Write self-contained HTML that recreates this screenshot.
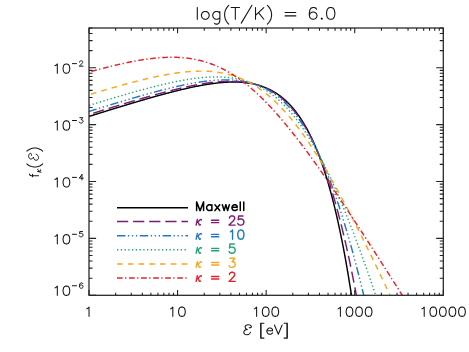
<!DOCTYPE html>
<html><head><meta charset="utf-8"><title>plot</title>
<style>html,body{margin:0;padding:0;background:#fff;}svg{display:block}</style></head>
<body><svg width="469" height="352" viewBox="0 0 469 352">
<rect width="469" height="352" fill="#fff"/>
<defs><clipPath id="c"><rect x="89.0" y="28.0" width="354.3" height="267.3"/></clipPath></defs>
<g clip-path="url(#c)" fill="none" stroke-width="1.45" stroke-linejoin="round">
<path d="M89.00,116.43 L89.59,116.25 L90.18,116.06 L90.77,115.88 L91.37,115.69 L91.96,115.51 L92.55,115.32 L93.14,115.14 L93.73,114.95 L94.32,114.77 L94.91,114.58 L95.51,114.40 L96.10,114.21 L96.69,114.03 L97.28,113.84 L97.87,113.66 L98.46,113.48 L99.06,113.29 L99.65,113.11 L100.24,112.92 L100.83,112.74 L101.42,112.55 L102.01,112.37 L102.60,112.19 L103.20,112.00 L103.79,111.82 L104.38,111.64 L104.97,111.45 L105.56,111.27 L106.15,111.09 L106.74,110.90 L107.34,110.72 L107.93,110.54 L108.52,110.36 L109.11,110.17 L109.70,109.99 L110.29,109.81 L110.88,109.63 L111.48,109.44 L112.07,109.26 L112.66,109.08 L113.25,108.90 L113.84,108.72 L114.43,108.54 L115.03,108.35 L115.62,108.17 L116.21,107.99 L116.80,107.81 L117.39,107.63 L117.98,107.45 L118.57,107.27 L119.17,107.09 L119.76,106.91 L120.35,106.73 L120.94,106.55 L121.53,106.37 L122.12,106.19 L122.71,106.01 L123.31,105.83 L123.90,105.65 L124.49,105.47 L125.08,105.29 L125.67,105.12 L126.26,104.94 L126.86,104.76 L127.45,104.58 L128.04,104.40 L128.63,104.22 L129.22,104.05 L129.81,103.87 L130.40,103.69 L131.00,103.52 L131.59,103.34 L132.18,103.16 L132.77,102.99 L133.36,102.81 L133.95,102.63 L134.54,102.46 L135.14,102.28 L135.73,102.11 L136.32,101.93 L136.91,101.76 L137.50,101.58 L138.09,101.41 L138.68,101.24 L139.28,101.06 L139.87,100.89 L140.46,100.72 L141.05,100.54 L141.64,100.37 L142.23,100.20 L142.83,100.03 L143.42,99.85 L144.01,99.68 L144.60,99.51 L145.19,99.34 L145.78,99.17 L146.37,99.00 L146.97,98.83 L147.56,98.66 L148.15,98.49 L148.74,98.32 L149.33,98.15 L149.92,97.98 L150.51,97.81 L151.11,97.65 L151.70,97.48 L152.29,97.31 L152.88,97.14 L153.47,96.98 L154.06,96.81 L154.65,96.64 L155.25,96.48 L155.84,96.31 L156.43,96.15 L157.02,95.99 L157.61,95.82 L158.20,95.66 L158.80,95.49 L159.39,95.33 L159.98,95.17 L160.57,95.01 L161.16,94.85 L161.75,94.69 L162.34,94.53 L162.94,94.37 L163.53,94.21 L164.12,94.05 L164.71,93.89 L165.30,93.73 L165.89,93.57 L166.48,93.41 L167.08,93.26 L167.67,93.10 L168.26,92.95 L168.85,92.79 L169.44,92.64 L170.03,92.48 L170.63,92.33 L171.22,92.18 L171.81,92.02 L172.40,91.87 L172.99,91.72 L173.58,91.57 L174.17,91.42 L174.77,91.27 L175.36,91.12 L175.95,90.98 L176.54,90.83 L177.13,90.68 L177.72,90.54 L178.31,90.39 L178.91,90.25 L179.50,90.10 L180.09,89.96 L180.68,89.82 L181.27,89.67 L181.86,89.53 L182.45,89.39 L183.05,89.25 L183.64,89.11 L184.23,88.98 L184.82,88.84 L185.41,88.70 L186.00,88.57 L186.60,88.43 L187.19,88.30 L187.78,88.17 L188.37,88.03 L188.96,87.90 L189.55,87.77 L190.14,87.64 L190.74,87.52 L191.33,87.39 L191.92,87.26 L192.51,87.14 L193.10,87.01 L193.69,86.89 L194.28,86.77 L194.88,86.64 L195.47,86.52 L196.06,86.40 L196.65,86.29 L197.24,86.17 L197.83,86.05 L198.42,85.94 L199.02,85.83 L199.61,85.71 L200.20,85.60 L200.79,85.49 L201.38,85.38 L201.97,85.28 L202.57,85.17 L203.16,85.06 L203.75,84.96 L204.34,84.86 L204.93,84.76 L205.52,84.66 L206.11,84.56 L206.71,84.46 L207.30,84.37 L207.89,84.28 L208.48,84.18 L209.07,84.09 L209.66,84.00 L210.25,83.92 L210.85,83.83 L211.44,83.74 L212.03,83.66 L212.62,83.58 L213.21,83.50 L213.80,83.42 L214.39,83.35 L214.99,83.27 L215.58,83.20 L216.17,83.13 L216.76,83.06 L217.35,82.99 L217.94,82.93 L218.54,82.87 L219.13,82.81 L219.72,82.75 L220.31,82.69 L220.90,82.63 L221.49,82.58 L222.08,82.53 L222.68,82.48 L223.27,82.44 L223.86,82.39 L224.45,82.35 L225.04,82.31 L225.63,82.27 L226.22,82.24 L226.82,82.20 L227.41,82.17 L228.00,82.15 L228.59,82.12 L229.18,82.10 L229.77,82.08 L230.37,82.06 L230.96,82.05 L231.55,82.04 L232.14,82.03 L232.73,82.02 L233.32,82.02 L233.91,82.02 L234.51,82.02 L235.10,82.02 L235.69,82.03 L236.28,82.04 L236.87,82.06 L237.46,82.07 L238.05,82.09 L238.65,82.12 L239.24,82.15 L239.83,82.18 L240.42,82.21 L241.01,82.25 L241.60,82.29 L242.19,82.33 L242.79,82.38 L243.38,82.44 L243.97,82.49 L244.56,82.55 L245.15,82.61 L245.74,82.68 L246.34,82.75 L246.93,82.83 L247.52,82.91 L248.11,82.99 L248.70,83.08 L249.29,83.17 L249.88,83.27 L250.48,83.37 L251.07,83.48 L251.66,83.59 L252.25,83.70 L252.84,83.82 L253.43,83.94 L254.02,84.07 L254.62,84.21 L255.21,84.35 L255.80,84.49 L256.39,84.64 L256.98,84.80 L257.57,84.96 L258.16,85.12 L258.76,85.29 L259.35,85.47 L259.94,85.65 L260.53,85.84 L261.12,86.03 L261.71,86.23 L262.31,86.44 L262.90,86.65 L263.49,86.87 L264.08,87.09 L264.67,87.32 L265.26,87.56 L265.85,87.81 L266.45,88.06 L267.04,88.32 L267.63,88.58 L268.22,88.85 L268.81,89.13 L269.40,89.42 L269.99,89.71 L270.59,90.01 L271.18,90.32 L271.77,90.64 L272.36,90.96 L272.95,91.29 L273.54,91.63 L274.14,91.98 L274.73,92.34 L275.32,92.70 L275.91,93.08 L276.50,93.46 L277.09,93.85 L277.68,94.25 L278.28,94.66 L278.87,95.08 L279.46,95.51 L280.05,95.95 L280.64,96.39 L281.23,96.85 L281.82,97.32 L282.42,97.80 L283.01,98.28 L283.60,98.78 L284.19,99.29 L284.78,99.81 L285.37,100.34 L285.96,100.89 L286.56,101.44 L287.15,102.00 L287.74,102.58 L288.33,103.17 L288.92,103.77 L289.51,104.38 L290.11,105.01 L290.70,105.65 L291.29,106.30 L291.88,106.96 L292.47,107.64 L293.06,108.33 L293.65,109.03 L294.25,109.75 L294.84,110.48 L295.43,111.23 L296.02,111.99 L296.61,112.77 L297.20,113.56 L297.79,114.36 L298.39,115.19 L298.98,116.02 L299.57,116.88 L300.16,117.74 L300.75,118.63 L301.34,119.53 L301.93,120.45 L302.53,121.39 L303.12,122.34 L303.71,123.31 L304.30,124.30 L304.89,125.31 L305.48,126.34 L306.08,127.38 L306.67,128.45 L307.26,129.53 L307.85,130.63 L308.44,131.76 L309.03,132.90 L309.62,134.06 L310.22,135.25 L310.81,136.46 L311.40,137.68 L311.99,138.93 L312.58,140.21 L313.17,141.50 L313.76,142.82 L314.36,144.16 L314.95,145.53 L315.54,146.92 L316.13,148.33 L316.72,149.77 L317.31,151.24 L317.91,152.72 L318.50,154.24 L319.09,155.78 L319.68,157.35 L320.27,158.95 L320.86,160.57 L321.45,162.22 L322.05,163.90 L322.64,165.61 L323.23,167.35 L323.82,169.12 L324.41,170.92 L325.00,172.75 L325.59,174.61 L326.19,176.51 L326.78,178.43 L327.37,180.39 L327.96,182.38 L328.55,184.41 L329.14,186.47 L329.73,188.56 L330.33,190.69 L330.92,192.86 L331.51,195.06 L332.10,197.30 L332.69,199.58 L333.28,201.89 L333.88,204.25 L334.47,206.64 L335.06,209.07 L335.65,211.55 L336.24,214.06 L336.83,216.62 L337.42,219.22 L338.02,221.86 L338.61,224.55 L339.20,227.28 L339.79,230.06 L340.38,232.88 L340.97,235.75 L341.56,238.67 L342.16,241.63 L342.75,244.65 L343.34,247.71 L343.93,250.83 L344.52,253.99 L345.11,257.21 L345.70,260.48 L346.30,263.80 L346.89,267.18 L347.48,270.61 L348.07,274.10 L348.66,277.65 L349.25,281.26 L349.85,284.92 L350.44,288.64 L351.03,292.43 L351.62,296.27 L352.21,300.18 L352.80,304.15 L353.39,308.19 L353.99,312.29 L354.58,316.45 L355.17,320.69 L355.76,324.99 L356.35,329.37" stroke="black"/>
<path d="M89.00,114.55 L89.59,114.36 L90.18,114.18 L90.77,113.99 L91.37,113.81 L91.96,113.62 L92.55,113.44 L93.14,113.25 L93.73,113.07 L94.32,112.88 L94.91,112.70 L95.51,112.52 L96.10,112.33 L96.69,112.15 L97.28,111.96 L97.87,111.78 L98.46,111.60 L99.06,111.41 L99.65,111.23 L100.24,111.05 L100.83,110.86 L101.42,110.68 L102.01,110.50 L102.60,110.31 L103.20,110.13 L103.79,109.95 L104.38,109.76 L104.97,109.58 L105.56,109.40 L106.15,109.22 L106.74,109.03 L107.34,108.85 L107.93,108.67 L108.52,108.49 L109.11,108.31 L109.70,108.13 L110.29,107.94 L110.88,107.76 L111.48,107.58 L112.07,107.40 L112.66,107.22 L113.25,107.04 L113.84,106.86 L114.43,106.68 L115.03,106.50 L115.62,106.32 L116.21,106.14 L116.80,105.96 L117.39,105.78 L117.98,105.60 L118.57,105.42 L119.17,105.24 L119.76,105.06 L120.35,104.88 L120.94,104.70 L121.53,104.52 L122.12,104.34 L122.71,104.17 L123.31,103.99 L123.90,103.81 L124.49,103.63 L125.08,103.45 L125.67,103.28 L126.26,103.10 L126.86,102.92 L127.45,102.75 L128.04,102.57 L128.63,102.39 L129.22,102.22 L129.81,102.04 L130.40,101.86 L131.00,101.69 L131.59,101.51 L132.18,101.34 L132.77,101.16 L133.36,100.99 L133.95,100.81 L134.54,100.64 L135.14,100.47 L135.73,100.29 L136.32,100.12 L136.91,99.95 L137.50,99.77 L138.09,99.60 L138.68,99.43 L139.28,99.26 L139.87,99.08 L140.46,98.91 L141.05,98.74 L141.64,98.57 L142.23,98.40 L142.83,98.23 L143.42,98.06 L144.01,97.89 L144.60,97.72 L145.19,97.55 L145.78,97.38 L146.37,97.21 L146.97,97.05 L147.56,96.88 L148.15,96.71 L148.74,96.54 L149.33,96.38 L149.92,96.21 L150.51,96.04 L151.11,95.88 L151.70,95.71 L152.29,95.55 L152.88,95.38 L153.47,95.22 L154.06,95.06 L154.65,94.89 L155.25,94.73 L155.84,94.57 L156.43,94.41 L157.02,94.24 L157.61,94.08 L158.20,93.92 L158.80,93.76 L159.39,93.60 L159.98,93.44 L160.57,93.28 L161.16,93.12 L161.75,92.97 L162.34,92.81 L162.94,92.65 L163.53,92.50 L164.12,92.34 L164.71,92.18 L165.30,92.03 L165.89,91.88 L166.48,91.72 L167.08,91.57 L167.67,91.42 L168.26,91.26 L168.85,91.11 L169.44,90.96 L170.03,90.81 L170.63,90.66 L171.22,90.51 L171.81,90.36 L172.40,90.22 L172.99,90.07 L173.58,89.92 L174.17,89.78 L174.77,89.63 L175.36,89.49 L175.95,89.34 L176.54,89.20 L177.13,89.06 L177.72,88.92 L178.31,88.78 L178.91,88.64 L179.50,88.50 L180.09,88.36 L180.68,88.22 L181.27,88.08 L181.86,87.95 L182.45,87.81 L183.05,87.68 L183.64,87.54 L184.23,87.41 L184.82,87.28 L185.41,87.15 L186.00,87.02 L186.60,86.89 L187.19,86.76 L187.78,86.63 L188.37,86.51 L188.96,86.38 L189.55,86.26 L190.14,86.13 L190.74,86.01 L191.33,85.89 L191.92,85.77 L192.51,85.65 L193.10,85.53 L193.69,85.42 L194.28,85.30 L194.88,85.19 L195.47,85.07 L196.06,84.96 L196.65,84.85 L197.24,84.74 L197.83,84.63 L198.42,84.52 L199.02,84.42 L199.61,84.31 L200.20,84.21 L200.79,84.11 L201.38,84.01 L201.97,83.91 L202.57,83.81 L203.16,83.71 L203.75,83.62 L204.34,83.52 L204.93,83.43 L205.52,83.34 L206.11,83.25 L206.71,83.16 L207.30,83.08 L207.89,82.99 L208.48,82.91 L209.07,82.83 L209.66,82.75 L210.25,82.67 L210.85,82.59 L211.44,82.52 L212.03,82.45 L212.62,82.37 L213.21,82.30 L213.80,82.24 L214.39,82.17 L214.99,82.11 L215.58,82.05 L216.17,81.99 L216.76,81.93 L217.35,81.87 L217.94,81.82 L218.54,81.77 L219.13,81.72 L219.72,81.67 L220.31,81.63 L220.90,81.58 L221.49,81.54 L222.08,81.50 L222.68,81.47 L223.27,81.44 L223.86,81.40 L224.45,81.37 L225.04,81.35 L225.63,81.32 L226.22,81.30 L226.82,81.28 L227.41,81.27 L228.00,81.25 L228.59,81.24 L229.18,81.24 L229.77,81.23 L230.37,81.23 L230.96,81.23 L231.55,81.23 L232.14,81.24 L232.73,81.25 L233.32,81.26 L233.91,81.27 L234.51,81.29 L235.10,81.31 L235.69,81.34 L236.28,81.36 L236.87,81.40 L237.46,81.43 L238.05,81.47 L238.65,81.51 L239.24,81.55 L239.83,81.60 L240.42,81.65 L241.01,81.71 L241.60,81.77 L242.19,81.83 L242.79,81.90 L243.38,81.97 L243.97,82.04 L244.56,82.12 L245.15,82.21 L245.74,82.29 L246.34,82.38 L246.93,82.48 L247.52,82.58 L248.11,82.68 L248.70,82.79 L249.29,82.90 L249.88,83.02 L250.48,83.14 L251.07,83.27 L251.66,83.40 L252.25,83.54 L252.84,83.68 L253.43,83.82 L254.02,83.97 L254.62,84.13 L255.21,84.29 L255.80,84.46 L256.39,84.63 L256.98,84.81 L257.57,84.99 L258.16,85.18 L258.76,85.37 L259.35,85.57 L259.94,85.78 L260.53,85.99 L261.12,86.21 L261.71,86.43 L262.31,86.66 L262.90,86.89 L263.49,87.14 L264.08,87.38 L264.67,87.64 L265.26,87.90 L265.85,88.17 L266.45,88.44 L267.04,88.73 L267.63,89.01 L268.22,89.31 L268.81,89.61 L269.40,89.92 L269.99,90.24 L270.59,90.56 L271.18,90.90 L271.77,91.24 L272.36,91.59 L272.95,91.94 L273.54,92.30 L274.14,92.68 L274.73,93.06 L275.32,93.44 L275.91,93.84 L276.50,94.25 L277.09,94.66 L277.68,95.08 L278.28,95.52 L278.87,95.96 L279.46,96.41 L280.05,96.86 L280.64,97.33 L281.23,97.81 L281.82,98.30 L282.42,98.80 L283.01,99.30 L283.60,99.82 L284.19,100.35 L284.78,100.89 L285.37,101.43 L285.96,101.99 L286.56,102.56 L287.15,103.14 L287.74,103.73 L288.33,104.34 L288.92,104.95 L289.51,105.58 L290.11,106.21 L290.70,106.86 L291.29,107.52 L291.88,108.19 L292.47,108.88 L293.06,109.57 L293.65,110.28 L294.25,111.01 L294.84,111.74 L295.43,112.49 L296.02,113.25 L296.61,114.02 L297.20,114.81 L297.79,115.61 L298.39,116.43 L298.98,117.26 L299.57,118.10 L300.16,118.96 L300.75,119.83 L301.34,120.72 L301.93,121.62 L302.53,122.53 L303.12,123.46 L303.71,124.41 L304.30,125.37 L304.89,126.35 L305.48,127.35 L306.08,128.36 L306.67,129.38 L307.26,130.43 L307.85,131.49 L308.44,132.56 L309.03,133.66 L309.62,134.77 L310.22,135.90 L310.81,137.04 L311.40,138.21 L311.99,139.39 L312.58,140.59 L313.17,141.81 L313.76,143.05 L314.36,144.30 L314.95,145.58 L315.54,146.87 L316.13,148.19 L316.72,149.52 L317.31,150.88 L317.91,152.25 L318.50,153.65 L319.09,155.06 L319.68,156.50 L320.27,157.95 L320.86,159.43 L321.45,160.93 L322.05,162.45 L322.64,163.99 L323.23,165.56 L323.82,167.15 L324.41,168.76 L325.00,170.39 L325.59,172.04 L326.19,173.72 L326.78,175.43 L327.37,177.15 L327.96,178.90 L328.55,180.67 L329.14,182.47 L329.73,184.30 L330.33,186.14 L330.92,188.02 L331.51,189.91 L332.10,191.84 L332.69,193.78 L333.28,195.76 L333.88,197.76 L334.47,199.79 L335.06,201.84 L335.65,203.92 L336.24,206.03 L336.83,208.16 L337.42,210.32 L338.02,212.51 L338.61,214.73 L339.20,216.97 L339.79,219.25 L340.38,221.55 L340.97,223.88 L341.56,226.24 L342.16,228.63 L342.75,231.05 L343.34,233.50 L343.93,235.98 L344.52,238.48 L345.11,241.02 L345.70,243.59 L346.30,246.19 L346.89,248.82 L347.48,251.48 L348.07,254.18 L348.66,256.90 L349.25,259.66 L349.85,262.44 L350.44,265.26 L351.03,268.12 L351.62,271.00 L352.21,273.92 L352.80,276.87 L353.39,279.85 L353.99,282.87 L354.58,285.92 L355.17,289.00 L355.76,292.12 L356.35,295.27 L356.94,298.45 L357.53,301.67 L358.13,304.93 L358.72,308.22 L359.31,311.54 L359.90,314.90 L360.49,318.29 L361.08,321.72 L361.67,325.18 L362.27,328.68" stroke="#7b1b73" stroke-dasharray="11.2 4.9" stroke-dashoffset="11.7"/>
<path d="M89.00,111.45 L89.59,111.27 L90.18,111.09 L90.77,110.90 L91.37,110.72 L91.96,110.53 L92.55,110.35 L93.14,110.17 L93.73,109.98 L94.32,109.80 L94.91,109.62 L95.51,109.43 L96.10,109.25 L96.69,109.07 L97.28,108.88 L97.87,108.70 L98.46,108.52 L99.06,108.34 L99.65,108.15 L100.24,107.97 L100.83,107.79 L101.42,107.61 L102.01,107.42 L102.60,107.24 L103.20,107.06 L103.79,106.88 L104.38,106.70 L104.97,106.52 L105.56,106.34 L106.15,106.15 L106.74,105.97 L107.34,105.79 L107.93,105.61 L108.52,105.43 L109.11,105.25 L109.70,105.07 L110.29,104.89 L110.88,104.71 L111.48,104.53 L112.07,104.35 L112.66,104.17 L113.25,103.99 L113.84,103.81 L114.43,103.63 L115.03,103.46 L115.62,103.28 L116.21,103.10 L116.80,102.92 L117.39,102.74 L117.98,102.56 L118.57,102.39 L119.17,102.21 L119.76,102.03 L120.35,101.85 L120.94,101.68 L121.53,101.50 L122.12,101.32 L122.71,101.15 L123.31,100.97 L123.90,100.79 L124.49,100.62 L125.08,100.44 L125.67,100.27 L126.26,100.09 L126.86,99.92 L127.45,99.74 L128.04,99.57 L128.63,99.40 L129.22,99.22 L129.81,99.05 L130.40,98.87 L131.00,98.70 L131.59,98.53 L132.18,98.36 L132.77,98.18 L133.36,98.01 L133.95,97.84 L134.54,97.67 L135.14,97.50 L135.73,97.33 L136.32,97.16 L136.91,96.98 L137.50,96.81 L138.09,96.64 L138.68,96.48 L139.28,96.31 L139.87,96.14 L140.46,95.97 L141.05,95.80 L141.64,95.63 L142.23,95.47 L142.83,95.30 L143.42,95.13 L144.01,94.97 L144.60,94.80 L145.19,94.63 L145.78,94.47 L146.37,94.30 L146.97,94.14 L147.56,93.97 L148.15,93.81 L148.74,93.65 L149.33,93.48 L149.92,93.32 L150.51,93.16 L151.11,93.00 L151.70,92.84 L152.29,92.68 L152.88,92.52 L153.47,92.36 L154.06,92.20 L154.65,92.04 L155.25,91.88 L155.84,91.72 L156.43,91.56 L157.02,91.41 L157.61,91.25 L158.20,91.09 L158.80,90.94 L159.39,90.78 L159.98,90.63 L160.57,90.48 L161.16,90.32 L161.75,90.17 L162.34,90.02 L162.94,89.87 L163.53,89.71 L164.12,89.56 L164.71,89.41 L165.30,89.27 L165.89,89.12 L166.48,88.97 L167.08,88.82 L167.67,88.67 L168.26,88.53 L168.85,88.38 L169.44,88.24 L170.03,88.10 L170.63,87.95 L171.22,87.81 L171.81,87.67 L172.40,87.53 L172.99,87.39 L173.58,87.25 L174.17,87.11 L174.77,86.97 L175.36,86.83 L175.95,86.70 L176.54,86.56 L177.13,86.43 L177.72,86.29 L178.31,86.16 L178.91,86.03 L179.50,85.90 L180.09,85.77 L180.68,85.64 L181.27,85.51 L181.86,85.38 L182.45,85.25 L183.05,85.13 L183.64,85.00 L184.23,84.88 L184.82,84.76 L185.41,84.64 L186.00,84.51 L186.60,84.39 L187.19,84.28 L187.78,84.16 L188.37,84.04 L188.96,83.93 L189.55,83.81 L190.14,83.70 L190.74,83.59 L191.33,83.48 L191.92,83.37 L192.51,83.26 L193.10,83.15 L193.69,83.05 L194.28,82.94 L194.88,82.84 L195.47,82.74 L196.06,82.64 L196.65,82.54 L197.24,82.44 L197.83,82.35 L198.42,82.25 L199.02,82.16 L199.61,82.07 L200.20,81.98 L200.79,81.89 L201.38,81.80 L201.97,81.71 L202.57,81.63 L203.16,81.55 L203.75,81.47 L204.34,81.39 L204.93,81.31 L205.52,81.23 L206.11,81.16 L206.71,81.09 L207.30,81.01 L207.89,80.95 L208.48,80.88 L209.07,80.81 L209.66,80.75 L210.25,80.69 L210.85,80.63 L211.44,80.57 L212.03,80.51 L212.62,80.46 L213.21,80.41 L213.80,80.36 L214.39,80.31 L214.99,80.27 L215.58,80.22 L216.17,80.18 L216.76,80.14 L217.35,80.11 L217.94,80.07 L218.54,80.04 L219.13,80.01 L219.72,79.98 L220.31,79.96 L220.90,79.94 L221.49,79.92 L222.08,79.90 L222.68,79.88 L223.27,79.87 L223.86,79.86 L224.45,79.86 L225.04,79.85 L225.63,79.85 L226.22,79.85 L226.82,79.86 L227.41,79.86 L228.00,79.87 L228.59,79.89 L229.18,79.90 L229.77,79.92 L230.37,79.94 L230.96,79.97 L231.55,80.00 L232.14,80.03 L232.73,80.06 L233.32,80.10 L233.91,80.14 L234.51,80.19 L235.10,80.24 L235.69,80.29 L236.28,80.34 L236.87,80.40 L237.46,80.46 L238.05,80.53 L238.65,80.60 L239.24,80.67 L239.83,80.75 L240.42,80.83 L241.01,80.92 L241.60,81.01 L242.19,81.10 L242.79,81.20 L243.38,81.30 L243.97,81.40 L244.56,81.51 L245.15,81.63 L245.74,81.75 L246.34,81.87 L246.93,82.00 L247.52,82.13 L248.11,82.26 L248.70,82.41 L249.29,82.55 L249.88,82.70 L250.48,82.86 L251.07,83.02 L251.66,83.18 L252.25,83.35 L252.84,83.53 L253.43,83.71 L254.02,83.90 L254.62,84.09 L255.21,84.28 L255.80,84.49 L256.39,84.69 L256.98,84.91 L257.57,85.13 L258.16,85.35 L258.76,85.58 L259.35,85.82 L259.94,86.06 L260.53,86.31 L261.12,86.56 L261.71,86.82 L262.31,87.09 L262.90,87.36 L263.49,87.64 L264.08,87.92 L264.67,88.22 L265.26,88.52 L265.85,88.82 L266.45,89.13 L267.04,89.45 L267.63,89.78 L268.22,90.11 L268.81,90.45 L269.40,90.80 L269.99,91.15 L270.59,91.51 L271.18,91.88 L271.77,92.26 L272.36,92.64 L272.95,93.03 L273.54,93.43 L274.14,93.84 L274.73,94.26 L275.32,94.68 L275.91,95.11 L276.50,95.55 L277.09,96.00 L277.68,96.45 L278.28,96.92 L278.87,97.39 L279.46,97.87 L280.05,98.36 L280.64,98.86 L281.23,99.37 L281.82,99.89 L282.42,100.41 L283.01,100.95 L283.60,101.49 L284.19,102.05 L284.78,102.61 L285.37,103.18 L285.96,103.76 L286.56,104.36 L287.15,104.96 L287.74,105.57 L288.33,106.19 L288.92,106.82 L289.51,107.47 L290.11,108.12 L290.70,108.78 L291.29,109.46 L291.88,110.14 L292.47,110.83 L293.06,111.54 L293.65,112.26 L294.25,112.98 L294.84,113.72 L295.43,114.47 L296.02,115.23 L296.61,116.00 L297.20,116.79 L297.79,117.58 L298.39,118.39 L298.98,119.21 L299.57,120.04 L300.16,120.88 L300.75,121.73 L301.34,122.60 L301.93,123.48 L302.53,124.37 L303.12,125.27 L303.71,126.19 L304.30,127.11 L304.89,128.06 L305.48,129.01 L306.08,129.97 L306.67,130.95 L307.26,131.95 L307.85,132.95 L308.44,133.97 L309.03,135.00 L309.62,136.05 L310.22,137.10 L310.81,138.18 L311.40,139.26 L311.99,140.36 L312.58,141.47 L313.17,142.60 L313.76,143.74 L314.36,144.89 L314.95,146.06 L315.54,147.25 L316.13,148.44 L316.72,149.65 L317.31,150.88 L317.91,152.12 L318.50,153.37 L319.09,154.64 L319.68,155.93 L320.27,157.22 L320.86,158.54 L321.45,159.87 L322.05,161.21 L322.64,162.57 L323.23,163.94 L323.82,165.33 L324.41,166.73 L325.00,168.15 L325.59,169.58 L326.19,171.03 L326.78,172.49 L327.37,173.97 L327.96,175.47 L328.55,176.98 L329.14,178.50 L329.73,180.05 L330.33,181.60 L330.92,183.18 L331.51,184.76 L332.10,186.37 L332.69,187.99 L333.28,189.62 L333.88,191.27 L334.47,192.94 L335.06,194.63 L335.65,196.32 L336.24,198.04 L336.83,199.77 L337.42,201.52 L338.02,203.28 L338.61,205.06 L339.20,206.85 L339.79,208.67 L340.38,210.49 L340.97,212.34 L341.56,214.19 L342.16,216.07 L342.75,217.96 L343.34,219.87 L343.93,221.79 L344.52,223.73 L345.11,225.69 L345.70,227.66 L346.30,229.65 L346.89,231.65 L347.48,233.67 L348.07,235.70 L348.66,237.76 L349.25,239.82 L349.85,241.91 L350.44,244.01 L351.03,246.12 L351.62,248.25 L352.21,250.40 L352.80,252.56 L353.39,254.74 L353.99,256.94 L354.58,259.15 L355.17,261.37 L355.76,263.61 L356.35,265.87 L356.94,268.14 L357.53,270.43 L358.13,272.74 L358.72,275.05 L359.31,277.39 L359.90,279.74 L360.49,282.10 L361.08,284.48 L361.67,286.88 L362.27,289.29 L362.86,291.72 L363.45,294.16 L364.04,296.61 L364.63,299.08 L365.22,301.57 L365.82,304.07 L366.41,306.58 L367.00,309.11 L367.59,311.66 L368.18,314.22 L368.77,316.79 L369.36,319.38 L369.96,321.98 L370.55,324.60 L371.14,327.23" stroke="#2277c2" stroke-dasharray="8.4 2.5 1.3 2.7 1.3 2.7 1.3 2.6" stroke-dashoffset="0.5"/>
<path d="M89.00,105.41 L89.59,105.22 L90.18,105.04 L90.77,104.86 L91.37,104.68 L91.96,104.50 L92.55,104.31 L93.14,104.13 L93.73,103.95 L94.32,103.77 L94.91,103.59 L95.51,103.41 L96.10,103.23 L96.69,103.05 L97.28,102.87 L97.87,102.68 L98.46,102.50 L99.06,102.32 L99.65,102.14 L100.24,101.96 L100.83,101.78 L101.42,101.60 L102.01,101.43 L102.60,101.25 L103.20,101.07 L103.79,100.89 L104.38,100.71 L104.97,100.53 L105.56,100.35 L106.15,100.17 L106.74,100.00 L107.34,99.82 L107.93,99.64 L108.52,99.46 L109.11,99.29 L109.70,99.11 L110.29,98.93 L110.88,98.75 L111.48,98.58 L112.07,98.40 L112.66,98.23 L113.25,98.05 L113.84,97.87 L114.43,97.70 L115.03,97.52 L115.62,97.35 L116.21,97.17 L116.80,97.00 L117.39,96.82 L117.98,96.65 L118.57,96.48 L119.17,96.30 L119.76,96.13 L120.35,95.96 L120.94,95.78 L121.53,95.61 L122.12,95.44 L122.71,95.27 L123.31,95.09 L123.90,94.92 L124.49,94.75 L125.08,94.58 L125.67,94.41 L126.26,94.24 L126.86,94.07 L127.45,93.90 L128.04,93.73 L128.63,93.56 L129.22,93.39 L129.81,93.22 L130.40,93.06 L131.00,92.89 L131.59,92.72 L132.18,92.55 L132.77,92.39 L133.36,92.22 L133.95,92.05 L134.54,91.89 L135.14,91.72 L135.73,91.56 L136.32,91.39 L136.91,91.23 L137.50,91.07 L138.09,90.90 L138.68,90.74 L139.28,90.58 L139.87,90.41 L140.46,90.25 L141.05,90.09 L141.64,89.93 L142.23,89.77 L142.83,89.61 L143.42,89.45 L144.01,89.29 L144.60,89.13 L145.19,88.98 L145.78,88.82 L146.37,88.66 L146.97,88.50 L147.56,88.35 L148.15,88.19 L148.74,88.04 L149.33,87.88 L149.92,87.73 L150.51,87.58 L151.11,87.42 L151.70,87.27 L152.29,87.12 L152.88,86.97 L153.47,86.82 L154.06,86.67 L154.65,86.52 L155.25,86.37 L155.84,86.22 L156.43,86.07 L157.02,85.93 L157.61,85.78 L158.20,85.63 L158.80,85.49 L159.39,85.35 L159.98,85.20 L160.57,85.06 L161.16,84.92 L161.75,84.78 L162.34,84.64 L162.94,84.50 L163.53,84.36 L164.12,84.22 L164.71,84.08 L165.30,83.94 L165.89,83.81 L166.48,83.67 L167.08,83.54 L167.67,83.41 L168.26,83.27 L168.85,83.14 L169.44,83.01 L170.03,82.88 L170.63,82.75 L171.22,82.62 L171.81,82.50 L172.40,82.37 L172.99,82.25 L173.58,82.12 L174.17,82.00 L174.77,81.88 L175.36,81.75 L175.95,81.63 L176.54,81.51 L177.13,81.40 L177.72,81.28 L178.31,81.16 L178.91,81.05 L179.50,80.94 L180.09,80.82 L180.68,80.71 L181.27,80.60 L181.86,80.49 L182.45,80.38 L183.05,80.28 L183.64,80.17 L184.23,80.07 L184.82,79.96 L185.41,79.86 L186.00,79.76 L186.60,79.66 L187.19,79.57 L187.78,79.47 L188.37,79.38 L188.96,79.28 L189.55,79.19 L190.14,79.10 L190.74,79.01 L191.33,78.92 L191.92,78.84 L192.51,78.75 L193.10,78.67 L193.69,78.59 L194.28,78.51 L194.88,78.43 L195.47,78.35 L196.06,78.28 L196.65,78.21 L197.24,78.13 L197.83,78.07 L198.42,78.00 L199.02,77.93 L199.61,77.87 L200.20,77.80 L200.79,77.74 L201.38,77.68 L201.97,77.63 L202.57,77.57 L203.16,77.52 L203.75,77.47 L204.34,77.42 L204.93,77.37 L205.52,77.33 L206.11,77.29 L206.71,77.25 L207.30,77.21 L207.89,77.17 L208.48,77.14 L209.07,77.11 L209.66,77.08 L210.25,77.05 L210.85,77.02 L211.44,77.00 L212.03,76.98 L212.62,76.96 L213.21,76.95 L213.80,76.94 L214.39,76.93 L214.99,76.92 L215.58,76.91 L216.17,76.91 L216.76,76.91 L217.35,76.92 L217.94,76.92 L218.54,76.93 L219.13,76.94 L219.72,76.96 L220.31,76.97 L220.90,76.99 L221.49,77.02 L222.08,77.04 L222.68,77.07 L223.27,77.10 L223.86,77.14 L224.45,77.18 L225.04,77.22 L225.63,77.26 L226.22,77.31 L226.82,77.36 L227.41,77.42 L228.00,77.47 L228.59,77.54 L229.18,77.60 L229.77,77.67 L230.37,77.74 L230.96,77.82 L231.55,77.90 L232.14,77.98 L232.73,78.07 L233.32,78.16 L233.91,78.25 L234.51,78.35 L235.10,78.45 L235.69,78.55 L236.28,78.66 L236.87,78.78 L237.46,78.90 L238.05,79.02 L238.65,79.14 L239.24,79.27 L239.83,79.41 L240.42,79.55 L241.01,79.69 L241.60,79.84 L242.19,79.99 L242.79,80.15 L243.38,80.31 L243.97,80.47 L244.56,80.64 L245.15,80.82 L245.74,81.00 L246.34,81.18 L246.93,81.37 L247.52,81.57 L248.11,81.77 L248.70,81.97 L249.29,82.18 L249.88,82.39 L250.48,82.61 L251.07,82.84 L251.66,83.07 L252.25,83.30 L252.84,83.54 L253.43,83.79 L254.02,84.04 L254.62,84.30 L255.21,84.56 L255.80,84.83 L256.39,85.10 L256.98,85.38 L257.57,85.66 L258.16,85.96 L258.76,86.25 L259.35,86.55 L259.94,86.86 L260.53,87.18 L261.12,87.50 L261.71,87.83 L262.31,88.16 L262.90,88.50 L263.49,88.84 L264.08,89.19 L264.67,89.55 L265.26,89.92 L265.85,90.29 L266.45,90.67 L267.04,91.05 L267.63,91.44 L268.22,91.84 L268.81,92.24 L269.40,92.65 L269.99,93.07 L270.59,93.50 L271.18,93.93 L271.77,94.37 L272.36,94.81 L272.95,95.26 L273.54,95.72 L274.14,96.19 L274.73,96.67 L275.32,97.15 L275.91,97.64 L276.50,98.13 L277.09,98.64 L277.68,99.15 L278.28,99.66 L278.87,100.19 L279.46,100.72 L280.05,101.27 L280.64,101.81 L281.23,102.37 L281.82,102.93 L282.42,103.51 L283.01,104.09 L283.60,104.67 L284.19,105.27 L284.78,105.87 L285.37,106.49 L285.96,107.10 L286.56,107.73 L287.15,108.37 L287.74,109.01 L288.33,109.66 L288.92,110.32 L289.51,110.99 L290.11,111.67 L290.70,112.35 L291.29,113.05 L291.88,113.75 L292.47,114.46 L293.06,115.18 L293.65,115.90 L294.25,116.64 L294.84,117.38 L295.43,118.13 L296.02,118.89 L296.61,119.66 L297.20,120.44 L297.79,121.23 L298.39,122.02 L298.98,122.82 L299.57,123.64 L300.16,124.46 L300.75,125.29 L301.34,126.12 L301.93,126.97 L302.53,127.83 L303.12,128.69 L303.71,129.56 L304.30,130.44 L304.89,131.33 L305.48,132.23 L306.08,133.14 L306.67,134.06 L307.26,134.98 L307.85,135.92 L308.44,136.86 L309.03,137.81 L309.62,138.77 L310.22,139.74 L310.81,140.72 L311.40,141.70 L311.99,142.70 L312.58,143.70 L313.17,144.71 L313.76,145.74 L314.36,146.77 L314.95,147.81 L315.54,148.85 L316.13,149.91 L316.72,150.97 L317.31,152.05 L317.91,153.13 L318.50,154.22 L319.09,155.32 L319.68,156.43 L320.27,157.55 L320.86,158.67 L321.45,159.80 L322.05,160.95 L322.64,162.10 L323.23,163.26 L323.82,164.42 L324.41,165.60 L325.00,166.79 L325.59,167.98 L326.19,169.18 L326.78,170.39 L327.37,171.61 L327.96,172.83 L328.55,174.07 L329.14,175.31 L329.73,176.56 L330.33,177.82 L330.92,179.09 L331.51,180.36 L332.10,181.65 L332.69,182.94 L333.28,184.24 L333.88,185.54 L334.47,186.86 L335.06,188.18 L335.65,189.51 L336.24,190.85 L336.83,192.19 L337.42,193.55 L338.02,194.91 L338.61,196.28 L339.20,197.65 L339.79,199.04 L340.38,200.43 L340.97,201.83 L341.56,203.24 L342.16,204.65 L342.75,206.07 L343.34,207.50 L343.93,208.93 L344.52,210.38 L345.11,211.83 L345.70,213.28 L346.30,214.75 L346.89,216.22 L347.48,217.69 L348.07,219.18 L348.66,220.67 L349.25,222.17 L349.85,223.67 L350.44,225.18 L351.03,226.70 L351.62,228.22 L352.21,229.76 L352.80,231.29 L353.39,232.84 L353.99,234.39 L354.58,235.94 L355.17,237.51 L355.76,239.07 L356.35,240.65 L356.94,242.23 L357.53,243.82 L358.13,245.41 L358.72,247.01 L359.31,248.62 L359.90,250.23 L360.49,251.84 L361.08,253.47 L361.67,255.09 L362.27,256.73 L362.86,258.37 L363.45,260.01 L364.04,261.66 L364.63,263.32 L365.22,264.98 L365.82,266.64 L366.41,268.32 L367.00,269.99 L367.59,271.67 L368.18,273.36 L368.77,275.05 L369.36,276.75 L369.96,278.45 L370.55,280.16 L371.14,281.87 L371.73,283.59 L372.32,285.31 L372.91,287.04 L373.50,288.77 L374.10,290.50 L374.69,292.24 L375.28,293.99 L375.87,295.74 L376.46,297.49 L377.05,299.25 L377.65,301.01 L378.24,302.78 L378.83,304.55 L379.42,306.32 L380.01,308.10 L380.60,309.89 L381.19,311.67 L381.79,313.46 L382.38,315.26 L382.97,317.06 L383.56,318.86 L384.15,320.67 L384.74,322.48 L385.33,324.29 L385.93,326.11" stroke="#1fa56f" stroke-dasharray="1.3 2.45" stroke-dashoffset="0"/>
<path d="M89.00,94.70 L89.59,94.52 L90.18,94.35 L90.77,94.17 L91.37,93.99 L91.96,93.81 L92.55,93.64 L93.14,93.46 L93.73,93.28 L94.32,93.11 L94.91,92.93 L95.51,92.75 L96.10,92.58 L96.69,92.40 L97.28,92.23 L97.87,92.05 L98.46,91.87 L99.06,91.70 L99.65,91.53 L100.24,91.35 L100.83,91.18 L101.42,91.00 L102.01,90.83 L102.60,90.66 L103.20,90.48 L103.79,90.31 L104.38,90.14 L104.97,89.96 L105.56,89.79 L106.15,89.62 L106.74,89.45 L107.34,89.28 L107.93,89.11 L108.52,88.93 L109.11,88.76 L109.70,88.59 L110.29,88.42 L110.88,88.25 L111.48,88.09 L112.07,87.92 L112.66,87.75 L113.25,87.58 L113.84,87.41 L114.43,87.24 L115.03,87.08 L115.62,86.91 L116.21,86.74 L116.80,86.58 L117.39,86.41 L117.98,86.24 L118.57,86.08 L119.17,85.91 L119.76,85.75 L120.35,85.59 L120.94,85.42 L121.53,85.26 L122.12,85.10 L122.71,84.93 L123.31,84.77 L123.90,84.61 L124.49,84.45 L125.08,84.29 L125.67,84.13 L126.26,83.97 L126.86,83.81 L127.45,83.65 L128.04,83.49 L128.63,83.33 L129.22,83.18 L129.81,83.02 L130.40,82.86 L131.00,82.71 L131.59,82.55 L132.18,82.40 L132.77,82.24 L133.36,82.09 L133.95,81.94 L134.54,81.78 L135.14,81.63 L135.73,81.48 L136.32,81.33 L136.91,81.18 L137.50,81.03 L138.09,80.88 L138.68,80.73 L139.28,80.58 L139.87,80.43 L140.46,80.29 L141.05,80.14 L141.64,80.00 L142.23,79.85 L142.83,79.71 L143.42,79.56 L144.01,79.42 L144.60,79.28 L145.19,79.14 L145.78,79.00 L146.37,78.86 L146.97,78.72 L147.56,78.58 L148.15,78.44 L148.74,78.31 L149.33,78.17 L149.92,78.03 L150.51,77.90 L151.11,77.77 L151.70,77.63 L152.29,77.50 L152.88,77.37 L153.47,77.24 L154.06,77.11 L154.65,76.98 L155.25,76.86 L155.84,76.73 L156.43,76.60 L157.02,76.48 L157.61,76.36 L158.20,76.23 L158.80,76.11 L159.39,75.99 L159.98,75.87 L160.57,75.75 L161.16,75.64 L161.75,75.52 L162.34,75.41 L162.94,75.29 L163.53,75.18 L164.12,75.07 L164.71,74.96 L165.30,74.85 L165.89,74.74 L166.48,74.63 L167.08,74.52 L167.67,74.42 L168.26,74.32 L168.85,74.21 L169.44,74.11 L170.03,74.01 L170.63,73.91 L171.22,73.82 L171.81,73.72 L172.40,73.63 L172.99,73.53 L173.58,73.44 L174.17,73.35 L174.77,73.26 L175.36,73.18 L175.95,73.09 L176.54,73.01 L177.13,72.92 L177.72,72.84 L178.31,72.76 L178.91,72.68 L179.50,72.61 L180.09,72.53 L180.68,72.46 L181.27,72.39 L181.86,72.32 L182.45,72.25 L183.05,72.18 L183.64,72.12 L184.23,72.06 L184.82,72.00 L185.41,71.94 L186.00,71.88 L186.60,71.82 L187.19,71.77 L187.78,71.72 L188.37,71.67 L188.96,71.62 L189.55,71.57 L190.14,71.53 L190.74,71.49 L191.33,71.45 L191.92,71.41 L192.51,71.38 L193.10,71.34 L193.69,71.31 L194.28,71.28 L194.88,71.26 L195.47,71.23 L196.06,71.21 L196.65,71.19 L197.24,71.17 L197.83,71.16 L198.42,71.14 L199.02,71.13 L199.61,71.13 L200.20,71.12 L200.79,71.12 L201.38,71.12 L201.97,71.12 L202.57,71.12 L203.16,71.13 L203.75,71.14 L204.34,71.16 L204.93,71.17 L205.52,71.19 L206.11,71.21 L206.71,71.23 L207.30,71.26 L207.89,71.29 L208.48,71.32 L209.07,71.36 L209.66,71.40 L210.25,71.44 L210.85,71.48 L211.44,71.53 L212.03,71.58 L212.62,71.63 L213.21,71.69 L213.80,71.75 L214.39,71.81 L214.99,71.88 L215.58,71.95 L216.17,72.02 L216.76,72.10 L217.35,72.18 L217.94,72.26 L218.54,72.35 L219.13,72.44 L219.72,72.53 L220.31,72.63 L220.90,72.73 L221.49,72.84 L222.08,72.94 L222.68,73.06 L223.27,73.17 L223.86,73.29 L224.45,73.42 L225.04,73.54 L225.63,73.67 L226.22,73.81 L226.82,73.95 L227.41,74.09 L228.00,74.24 L228.59,74.39 L229.18,74.54 L229.77,74.70 L230.37,74.86 L230.96,75.03 L231.55,75.20 L232.14,75.38 L232.73,75.56 L233.32,75.74 L233.91,75.93 L234.51,76.13 L235.10,76.32 L235.69,76.53 L236.28,76.73 L236.87,76.94 L237.46,77.16 L238.05,77.38 L238.65,77.61 L239.24,77.83 L239.83,78.07 L240.42,78.31 L241.01,78.55 L241.60,78.80 L242.19,79.05 L242.79,79.31 L243.38,79.57 L243.97,79.84 L244.56,80.12 L245.15,80.39 L245.74,80.68 L246.34,80.96 L246.93,81.26 L247.52,81.55 L248.11,81.86 L248.70,82.17 L249.29,82.48 L249.88,82.80 L250.48,83.12 L251.07,83.45 L251.66,83.79 L252.25,84.12 L252.84,84.47 L253.43,84.82 L254.02,85.18 L254.62,85.54 L255.21,85.90 L255.80,86.27 L256.39,86.65 L256.98,87.03 L257.57,87.42 L258.16,87.82 L258.76,88.22 L259.35,88.62 L259.94,89.03 L260.53,89.45 L261.12,89.87 L261.71,90.30 L262.31,90.73 L262.90,91.17 L263.49,91.61 L264.08,92.06 L264.67,92.52 L265.26,92.98 L265.85,93.45 L266.45,93.92 L267.04,94.40 L267.63,94.88 L268.22,95.37 L268.81,95.87 L269.40,96.37 L269.99,96.88 L270.59,97.39 L271.18,97.91 L271.77,98.43 L272.36,98.97 L272.95,99.50 L273.54,100.04 L274.14,100.59 L274.73,101.15 L275.32,101.71 L275.91,102.27 L276.50,102.84 L277.09,103.42 L277.68,104.00 L278.28,104.59 L278.87,105.19 L279.46,105.79 L280.05,106.40 L280.64,107.01 L281.23,107.63 L281.82,108.25 L282.42,108.88 L283.01,109.52 L283.60,110.16 L284.19,110.81 L284.78,111.46 L285.37,112.12 L285.96,112.78 L286.56,113.45 L287.15,114.13 L287.74,114.81 L288.33,115.50 L288.92,116.19 L289.51,116.89 L290.11,117.59 L290.70,118.30 L291.29,119.02 L291.88,119.74 L292.47,120.47 L293.06,121.20 L293.65,121.94 L294.25,122.68 L294.84,123.43 L295.43,124.19 L296.02,124.95 L296.61,125.71 L297.20,126.48 L297.79,127.26 L298.39,128.04 L298.98,128.83 L299.57,129.62 L300.16,130.42 L300.75,131.22 L301.34,132.03 L301.93,132.85 L302.53,133.66 L303.12,134.49 L303.71,135.32 L304.30,136.15 L304.89,136.99 L305.48,137.84 L306.08,138.69 L306.67,139.54 L307.26,140.40 L307.85,141.27 L308.44,142.14 L309.03,143.01 L309.62,143.89 L310.22,144.77 L310.81,145.66 L311.40,146.56 L311.99,147.46 L312.58,148.36 L313.17,149.27 L313.76,150.18 L314.36,151.10 L314.95,152.02 L315.54,152.95 L316.13,153.88 L316.72,154.81 L317.31,155.76 L317.91,156.70 L318.50,157.65 L319.09,158.60 L319.68,159.56 L320.27,160.52 L320.86,161.49 L321.45,162.46 L322.05,163.43 L322.64,164.41 L323.23,165.40 L323.82,166.38 L324.41,167.37 L325.00,168.37 L325.59,169.37 L326.19,170.37 L326.78,171.38 L327.37,172.39 L327.96,173.40 L328.55,174.42 L329.14,175.45 L329.73,176.47 L330.33,177.50 L330.92,178.54 L331.51,179.57 L332.10,180.61 L332.69,181.66 L333.28,182.71 L333.88,183.76 L334.47,184.81 L335.06,185.87 L335.65,186.93 L336.24,188.00 L336.83,189.07 L337.42,190.14 L338.02,191.21 L338.61,192.29 L339.20,193.37 L339.79,194.46 L340.38,195.55 L340.97,196.64 L341.56,197.73 L342.16,198.83 L342.75,199.93 L343.34,201.03 L343.93,202.14 L344.52,203.25 L345.11,204.36 L345.70,205.47 L346.30,206.59 L346.89,207.71 L347.48,208.83 L348.07,209.96 L348.66,211.09 L349.25,212.22 L349.85,213.35 L350.44,214.49 L351.03,215.63 L351.62,216.77 L352.21,217.91 L352.80,219.06 L353.39,220.21 L353.99,221.36 L354.58,222.51 L355.17,223.67 L355.76,224.83 L356.35,225.99 L356.94,227.15 L357.53,228.32 L358.13,229.49 L358.72,230.66 L359.31,231.83 L359.90,233.00 L360.49,234.18 L361.08,235.36 L361.67,236.54 L362.27,237.72 L362.86,238.90 L363.45,240.09 L364.04,241.28 L364.63,242.47 L365.22,243.66 L365.82,244.86 L366.41,246.05 L367.00,247.25 L367.59,248.45 L368.18,249.65 L368.77,250.86 L369.36,252.06 L369.96,253.27 L370.55,254.48 L371.14,255.69 L371.73,256.90 L372.32,258.11 L372.91,259.33 L373.50,260.55 L374.10,261.77 L374.69,262.99 L375.28,264.21 L375.87,265.43 L376.46,266.66 L377.05,267.88 L377.65,269.11 L378.24,270.34 L378.83,271.57 L379.42,272.80 L380.01,274.03 L380.60,275.27 L381.19,276.51 L381.79,277.74 L382.38,278.98 L382.97,280.22 L383.56,281.46 L384.15,282.71 L384.74,283.95 L385.33,285.20 L385.93,286.44 L386.52,287.69 L387.11,288.94 L387.70,290.19 L388.29,291.44 L388.88,292.69 L389.47,293.94 L390.07,295.20 L390.66,296.45 L391.25,297.71 L391.84,298.97 L392.43,300.23 L393.02,301.49 L393.62,302.75 L394.21,304.01 L394.80,305.27 L395.39,306.54 L395.98,307.80 L396.57,309.07 L397.16,310.33 L397.76,311.60 L398.35,312.87 L398.94,314.14 L399.53,315.41 L400.12,316.68 L400.71,317.95 L401.30,319.22 L401.90,320.50 L402.49,321.77 L403.08,323.05 L403.67,324.32 L404.26,325.60" stroke="#f9a61f" stroke-dasharray="5.65 5.11" stroke-dashoffset="8.76"/>
<path d="M89.00,72.05 L89.59,71.89 L90.18,71.73 L90.77,71.56 L91.37,71.40 L91.96,71.24 L92.55,71.08 L93.14,70.92 L93.73,70.75 L94.32,70.59 L94.91,70.43 L95.51,70.27 L96.10,70.11 L96.69,69.96 L97.28,69.80 L97.87,69.64 L98.46,69.48 L99.06,69.33 L99.65,69.17 L100.24,69.01 L100.83,68.86 L101.42,68.70 L102.01,68.55 L102.60,68.40 L103.20,68.24 L103.79,68.09 L104.38,67.94 L104.97,67.79 L105.56,67.63 L106.15,67.48 L106.74,67.33 L107.34,67.19 L107.93,67.04 L108.52,66.89 L109.11,66.74 L109.70,66.59 L110.29,66.45 L110.88,66.30 L111.48,66.16 L112.07,66.01 L112.66,65.87 L113.25,65.73 L113.84,65.59 L114.43,65.45 L115.03,65.30 L115.62,65.17 L116.21,65.03 L116.80,64.89 L117.39,64.75 L117.98,64.61 L118.57,64.48 L119.17,64.34 L119.76,64.21 L120.35,64.07 L120.94,63.94 L121.53,63.81 L122.12,63.68 L122.71,63.55 L123.31,63.42 L123.90,63.29 L124.49,63.16 L125.08,63.04 L125.67,62.91 L126.26,62.79 L126.86,62.66 L127.45,62.54 L128.04,62.42 L128.63,62.30 L129.22,62.18 L129.81,62.06 L130.40,61.94 L131.00,61.82 L131.59,61.71 L132.18,61.59 L132.77,61.48 L133.36,61.37 L133.95,61.26 L134.54,61.15 L135.14,61.04 L135.73,60.93 L136.32,60.82 L136.91,60.72 L137.50,60.61 L138.09,60.51 L138.68,60.41 L139.28,60.31 L139.87,60.21 L140.46,60.11 L141.05,60.01 L141.64,59.92 L142.23,59.82 L142.83,59.73 L143.42,59.64 L144.01,59.55 L144.60,59.46 L145.19,59.37 L145.78,59.29 L146.37,59.20 L146.97,59.12 L147.56,59.04 L148.15,58.96 L148.74,58.88 L149.33,58.81 L149.92,58.73 L150.51,58.66 L151.11,58.59 L151.70,58.52 L152.29,58.45 L152.88,58.38 L153.47,58.32 L154.06,58.25 L154.65,58.19 L155.25,58.13 L155.84,58.07 L156.43,58.02 L157.02,57.96 L157.61,57.91 L158.20,57.86 L158.80,57.81 L159.39,57.76 L159.98,57.72 L160.57,57.68 L161.16,57.64 L161.75,57.60 L162.34,57.56 L162.94,57.52 L163.53,57.49 L164.12,57.46 L164.71,57.43 L165.30,57.41 L165.89,57.38 L166.48,57.36 L167.08,57.34 L167.67,57.32 L168.26,57.31 L168.85,57.29 L169.44,57.28 L170.03,57.27 L170.63,57.27 L171.22,57.26 L171.81,57.26 L172.40,57.26 L172.99,57.27 L173.58,57.27 L174.17,57.28 L174.77,57.29 L175.36,57.31 L175.95,57.32 L176.54,57.34 L177.13,57.36 L177.72,57.39 L178.31,57.41 L178.91,57.44 L179.50,57.47 L180.09,57.51 L180.68,57.55 L181.27,57.59 L181.86,57.63 L182.45,57.68 L183.05,57.73 L183.64,57.78 L184.23,57.83 L184.82,57.89 L185.41,57.95 L186.00,58.02 L186.60,58.08 L187.19,58.15 L187.78,58.23 L188.37,58.30 L188.96,58.38 L189.55,58.47 L190.14,58.55 L190.74,58.64 L191.33,58.73 L191.92,58.83 L192.51,58.93 L193.10,59.03 L193.69,59.14 L194.28,59.24 L194.88,59.36 L195.47,59.47 L196.06,59.59 L196.65,59.71 L197.24,59.84 L197.83,59.97 L198.42,60.10 L199.02,60.24 L199.61,60.38 L200.20,60.53 L200.79,60.67 L201.38,60.82 L201.97,60.98 L202.57,61.14 L203.16,61.30 L203.75,61.47 L204.34,61.64 L204.93,61.81 L205.52,61.99 L206.11,62.17 L206.71,62.36 L207.30,62.55 L207.89,62.74 L208.48,62.94 L209.07,63.14 L209.66,63.34 L210.25,63.55 L210.85,63.76 L211.44,63.98 L212.03,64.20 L212.62,64.43 L213.21,64.66 L213.80,64.89 L214.39,65.13 L214.99,65.37 L215.58,65.61 L216.17,65.86 L216.76,66.12 L217.35,66.38 L217.94,66.64 L218.54,66.90 L219.13,67.17 L219.72,67.45 L220.31,67.73 L220.90,68.01 L221.49,68.30 L222.08,68.59 L222.68,68.89 L223.27,69.19 L223.86,69.49 L224.45,69.80 L225.04,70.12 L225.63,70.43 L226.22,70.76 L226.82,71.08 L227.41,71.41 L228.00,71.75 L228.59,72.09 L229.18,72.43 L229.77,72.78 L230.37,73.13 L230.96,73.49 L231.55,73.85 L232.14,74.22 L232.73,74.59 L233.32,74.96 L233.91,75.34 L234.51,75.72 L235.10,76.11 L235.69,76.50 L236.28,76.90 L236.87,77.30 L237.46,77.70 L238.05,78.11 L238.65,78.53 L239.24,78.94 L239.83,79.37 L240.42,79.79 L241.01,80.23 L241.60,80.66 L242.19,81.10 L242.79,81.55 L243.38,81.99 L243.97,82.45 L244.56,82.90 L245.15,83.37 L245.74,83.83 L246.34,84.30 L246.93,84.78 L247.52,85.25 L248.11,85.74 L248.70,86.22 L249.29,86.71 L249.88,87.21 L250.48,87.71 L251.07,88.21 L251.66,88.72 L252.25,89.23 L252.84,89.75 L253.43,90.27 L254.02,90.80 L254.62,91.32 L255.21,91.86 L255.80,92.39 L256.39,92.93 L256.98,93.48 L257.57,94.03 L258.16,94.58 L258.76,95.14 L259.35,95.70 L259.94,96.26 L260.53,96.83 L261.12,97.40 L261.71,97.98 L262.31,98.56 L262.90,99.14 L263.49,99.73 L264.08,100.32 L264.67,100.92 L265.26,101.52 L265.85,102.12 L266.45,102.73 L267.04,103.34 L267.63,103.95 L268.22,104.57 L268.81,105.19 L269.40,105.81 L269.99,106.44 L270.59,107.07 L271.18,107.71 L271.77,108.35 L272.36,108.99 L272.95,109.64 L273.54,110.28 L274.14,110.94 L274.73,111.59 L275.32,112.25 L275.91,112.91 L276.50,113.58 L277.09,114.25 L277.68,114.92 L278.28,115.60 L278.87,116.28 L279.46,116.96 L280.05,117.64 L280.64,118.33 L281.23,119.02 L281.82,119.72 L282.42,120.41 L283.01,121.11 L283.60,121.82 L284.19,122.52 L284.78,123.23 L285.37,123.94 L285.96,124.66 L286.56,125.38 L287.15,126.10 L287.74,126.82 L288.33,127.55 L288.92,128.28 L289.51,129.01 L290.11,129.74 L290.70,130.48 L291.29,131.22 L291.88,131.96 L292.47,132.71 L293.06,133.45 L293.65,134.20 L294.25,134.96 L294.84,135.71 L295.43,136.47 L296.02,137.23 L296.61,137.99 L297.20,138.76 L297.79,139.52 L298.39,140.29 L298.98,141.06 L299.57,141.84 L300.16,142.61 L300.75,143.39 L301.34,144.17 L301.93,144.96 L302.53,145.74 L303.12,146.53 L303.71,147.32 L304.30,148.11 L304.89,148.90 L305.48,149.70 L306.08,150.50 L306.67,151.30 L307.26,152.10 L307.85,152.90 L308.44,153.71 L309.03,154.52 L309.62,155.33 L310.22,156.14 L310.81,156.95 L311.40,157.77 L311.99,158.58 L312.58,159.40 L313.17,160.22 L313.76,161.04 L314.36,161.87 L314.95,162.69 L315.54,163.52 L316.13,164.35 L316.72,165.18 L317.31,166.01 L317.91,166.85 L318.50,167.68 L319.09,168.52 L319.68,169.36 L320.27,170.20 L320.86,171.04 L321.45,171.88 L322.05,172.73 L322.64,173.57 L323.23,174.42 L323.82,175.27 L324.41,176.12 L325.00,176.97 L325.59,177.83 L326.19,178.68 L326.78,179.54 L327.37,180.39 L327.96,181.25 L328.55,182.11 L329.14,182.97 L329.73,183.83 L330.33,184.70 L330.92,185.56 L331.51,186.43 L332.10,187.29 L332.69,188.16 L333.28,189.03 L333.88,189.90 L334.47,190.77 L335.06,191.65 L335.65,192.52 L336.24,193.40 L336.83,194.27 L337.42,195.15 L338.02,196.03 L338.61,196.91 L339.20,197.79 L339.79,198.67 L340.38,199.55 L340.97,200.43 L341.56,201.32 L342.16,202.20 L342.75,203.09 L343.34,203.97 L343.93,204.86 L344.52,205.75 L345.11,206.64 L345.70,207.53 L346.30,208.42 L346.89,209.31 L347.48,210.21 L348.07,211.10 L348.66,211.99 L349.25,212.89 L349.85,213.79 L350.44,214.68 L351.03,215.58 L351.62,216.48 L352.21,217.38 L352.80,218.28 L353.39,219.18 L353.99,220.08 L354.58,220.98 L355.17,221.89 L355.76,222.79 L356.35,223.69 L356.94,224.60 L357.53,225.50 L358.13,226.41 L358.72,227.32 L359.31,228.22 L359.90,229.13 L360.49,230.04 L361.08,230.95 L361.67,231.86 L362.27,232.77 L362.86,233.68 L363.45,234.59 L364.04,235.50 L364.63,236.42 L365.22,237.33 L365.82,238.24 L366.41,239.16 L367.00,240.07 L367.59,240.99 L368.18,241.90 L368.77,242.82 L369.36,243.74 L369.96,244.65 L370.55,245.57 L371.14,246.49 L371.73,247.41 L372.32,248.33 L372.91,249.25 L373.50,250.17 L374.10,251.09 L374.69,252.01 L375.28,252.93 L375.87,253.85 L376.46,254.77 L377.05,255.70 L377.65,256.62 L378.24,257.54 L378.83,258.47 L379.42,259.39 L380.01,260.32 L380.60,261.24 L381.19,262.17 L381.79,263.09 L382.38,264.02 L382.97,264.94 L383.56,265.87 L384.15,266.80 L384.74,267.73 L385.33,268.65 L385.93,269.58 L386.52,270.51 L387.11,271.44 L387.70,272.37 L388.29,273.30 L388.88,274.23 L389.47,275.16 L390.07,276.09 L390.66,277.02 L391.25,277.95 L391.84,278.88 L392.43,279.81 L393.02,280.74 L393.62,281.67 L394.21,282.61 L394.80,283.54 L395.39,284.47 L395.98,285.41 L396.57,286.34 L397.16,287.27 L397.76,288.21 L398.35,289.14 L398.94,290.07 L399.53,291.01 L400.12,291.94 L400.71,292.88 L401.30,293.81 L401.90,294.75 L402.49,295.68 L403.08,296.62 L403.67,297.56 L404.26,298.49 L404.85,299.43 L405.44,300.36 L406.04,301.30 L406.63,302.24 L407.22,303.18 L407.81,304.11 L408.40,305.05 L408.99,305.99 L409.59,306.93 L410.18,307.86 L410.77,308.80 L411.36,309.74 L411.95,310.68 L412.54,311.62 L413.13,312.56 L413.73,313.50 L414.32,314.44 L414.91,315.37 L415.50,316.31 L416.09,317.25 L416.68,318.19 L417.27,319.13 L417.87,320.07 L418.46,321.01 L419.05,321.95 L419.64,322.90 L420.23,323.84 L420.82,324.78 L421.42,325.72" stroke="#e8212d" stroke-dasharray="5.65 2.4 1.3 2.7" stroke-dashoffset="9.6"/>
</g>
<path d="M89.00,295.3 v-5.35 M89.00,28.0 v5.35 M115.66,295.3 v-2.67 M115.66,28.0 v2.67 M131.26,295.3 v-2.67 M131.26,28.0 v2.67 M142.33,295.3 v-2.67 M142.33,28.0 v2.67 M150.91,295.3 v-2.67 M150.91,28.0 v2.67 M157.92,295.3 v-2.67 M157.92,28.0 v2.67 M163.85,295.3 v-2.67 M163.85,28.0 v2.67 M168.99,295.3 v-2.67 M168.99,28.0 v2.67 M173.52,295.3 v-2.67 M173.52,28.0 v2.67 M177.57,295.3 v-5.35 M177.57,28.0 v5.35 M204.24,295.3 v-2.67 M204.24,28.0 v2.67 M219.84,295.3 v-2.67 M219.84,28.0 v2.67 M230.90,295.3 v-2.67 M230.90,28.0 v2.67 M239.49,295.3 v-2.67 M239.49,28.0 v2.67 M246.50,295.3 v-2.67 M246.50,28.0 v2.67 M252.43,295.3 v-2.67 M252.43,28.0 v2.67 M257.57,295.3 v-2.67 M257.57,28.0 v2.67 M262.10,295.3 v-2.67 M262.10,28.0 v2.67 M266.15,295.3 v-5.35 M266.15,28.0 v5.35 M292.81,295.3 v-2.67 M292.81,28.0 v2.67 M308.41,295.3 v-2.67 M308.41,28.0 v2.67 M319.48,295.3 v-2.67 M319.48,28.0 v2.67 M328.06,295.3 v-2.67 M328.06,28.0 v2.67 M335.07,295.3 v-2.67 M335.07,28.0 v2.67 M341.00,295.3 v-2.67 M341.00,28.0 v2.67 M346.14,295.3 v-2.67 M346.14,28.0 v2.67 M350.67,295.3 v-2.67 M350.67,28.0 v2.67 M354.73,295.3 v-5.35 M354.73,28.0 v5.35 M381.39,295.3 v-2.67 M381.39,28.0 v2.67 M396.99,295.3 v-2.67 M396.99,28.0 v2.67 M408.05,295.3 v-2.67 M408.05,28.0 v2.67 M416.64,295.3 v-2.67 M416.64,28.0 v2.67 M423.65,295.3 v-2.67 M423.65,28.0 v2.67 M429.58,295.3 v-2.67 M429.58,28.0 v2.67 M434.72,295.3 v-2.67 M434.72,28.0 v2.67 M439.25,295.3 v-2.67 M439.25,28.0 v2.67 M443.30,295.3 v-5.35 M443.30,28.0 v5.35 M89.0,295.30 h7.1 M443.3,295.30 h-7.1 M89.0,278.18 h3.55 M443.3,278.18 h-3.55 M89.0,268.16 h3.55 M443.3,268.16 h-3.55 M89.0,261.05 h3.55 M443.3,261.05 h-3.55 M89.0,255.54 h3.55 M443.3,255.54 h-3.55 M89.0,251.04 h3.55 M443.3,251.04 h-3.55 M89.0,247.23 h3.55 M443.3,247.23 h-3.55 M89.0,243.93 h3.55 M443.3,243.93 h-3.55 M89.0,241.02 h3.55 M443.3,241.02 h-3.55 M89.0,238.42 h7.1 M443.3,238.42 h-7.1 M89.0,221.29 h3.55 M443.3,221.29 h-3.55 M89.0,211.27 h3.55 M443.3,211.27 h-3.55 M89.0,204.17 h3.55 M443.3,204.17 h-3.55 M89.0,198.65 h3.55 M443.3,198.65 h-3.55 M89.0,194.15 h3.55 M443.3,194.15 h-3.55 M89.0,190.34 h3.55 M443.3,190.34 h-3.55 M89.0,187.04 h3.55 M443.3,187.04 h-3.55 M89.0,184.13 h3.55 M443.3,184.13 h-3.55 M89.0,181.53 h7.1 M443.3,181.53 h-7.1 M89.0,164.41 h3.55 M443.3,164.41 h-3.55 M89.0,154.39 h3.55 M443.3,154.39 h-3.55 M89.0,147.28 h3.55 M443.3,147.28 h-3.55 M89.0,141.77 h3.55 M443.3,141.77 h-3.55 M89.0,137.27 h3.55 M443.3,137.27 h-3.55 M89.0,133.46 h3.55 M443.3,133.46 h-3.55 M89.0,130.16 h3.55 M443.3,130.16 h-3.55 M89.0,127.25 h3.55 M443.3,127.25 h-3.55 M89.0,124.65 h7.1 M443.3,124.65 h-7.1 M89.0,107.52 h3.55 M443.3,107.52 h-3.55 M89.0,97.50 h3.55 M443.3,97.50 h-3.55 M89.0,90.40 h3.55 M443.3,90.40 h-3.55 M89.0,84.88 h3.55 M443.3,84.88 h-3.55 M89.0,80.38 h3.55 M443.3,80.38 h-3.55 M89.0,76.57 h3.55 M443.3,76.57 h-3.55 M89.0,73.27 h3.55 M443.3,73.27 h-3.55 M89.0,70.36 h3.55 M443.3,70.36 h-3.55 M89.0,67.76 h7.1 M443.3,67.76 h-7.1 M89.0,50.64 h3.55 M443.3,50.64 h-3.55 M89.0,40.62 h3.55 M443.3,40.62 h-3.55 M89.0,33.51 h3.55 M443.3,33.51 h-3.55 M89.0,28.00 h3.55 M443.3,28.00 h-3.55" stroke="#222" stroke-width="1.1" fill="none"/>
<rect x="89.0" y="28.0" width="354.3" height="267.3" fill="none" stroke="#222" stroke-width="1.25"/>
<g fill="none" stroke-linecap="round" stroke-linejoin="round">
<path d="M197.30,7.55 L197.30,19.25 M204.43,11.45 L203.24,12.01 L202.05,13.12 L201.46,14.79 L201.46,15.91 L202.05,17.58 L203.24,18.69 L204.43,19.25 L206.21,19.25 L207.40,18.69 L208.59,17.58 L209.18,15.91 L209.18,14.79 L208.59,13.12 L207.40,12.01 L206.21,11.45 L204.43,11.45 M219.87,11.45 L219.87,20.64 L219.28,22.73 L218.68,23.43 L217.50,24.12 L215.71,24.12 L214.53,23.43 M219.87,13.12 L218.68,12.01 L217.50,11.45 L215.71,11.45 L214.53,12.01 L213.34,13.12 L212.74,14.79 L212.74,15.91 L213.34,17.58 L214.53,18.69 L215.71,19.25 L217.50,19.25 L218.68,18.69 L219.87,17.58 M228.78,5.44 L227.59,6.61 L226.41,8.36 L225.22,10.70 L224.62,13.62 L224.62,15.96 L225.22,18.89 L226.41,21.23 L227.59,22.98 L228.78,24.15 M235.32,7.55 L235.32,19.25 M231.16,7.55 L239.47,7.55 M251.95,5.32 L241.26,23.15 M255.51,7.55 L255.51,19.25 M263.83,7.55 L255.51,15.35 M258.48,12.57 L263.83,19.25 M267.39,5.44 L268.58,6.61 L269.77,8.36 L270.96,10.70 L271.55,13.62 L271.55,15.96 L270.96,18.89 L269.77,21.23 L268.58,22.98 L267.39,24.15 M285.09,12.57 L295.79,12.57 M285.09,15.91 L295.79,15.91 M316.46,9.22 L315.86,8.11 L314.08,7.55 L312.89,7.55 L311.11,8.11 L309.92,9.78 L309.33,12.57 L309.33,15.35 L309.92,17.58 L311.11,18.69 L312.89,19.25 L313.49,19.25 L315.27,18.69 L316.46,17.58 L317.05,15.91 L317.05,15.35 L316.46,13.68 L315.27,12.57 L313.49,12.01 L312.89,12.01 L311.11,12.57 L309.92,13.68 L309.33,15.35 M321.80,18.14 L321.21,18.69 L321.80,19.25 L322.40,18.69 L321.80,18.14 M330.12,7.55 L328.34,8.11 L327.15,9.78 L326.55,12.57 L326.55,14.24 L327.15,17.02 L328.34,18.69 L330.12,19.25 L331.31,19.25 L333.09,18.69 L334.28,17.02 L334.87,14.24 L334.87,12.57 L334.28,9.78 L333.09,8.11 L331.31,7.55 L330.12,7.55" stroke="#151515" stroke-width="1.1"/>
<path d="M86.64,308.87 L87.59,308.43 L89.03,307.11 L89.03,316.35" stroke="#151515" stroke-width="1.05"/>
<path d="M170.43,308.87 L171.39,308.43 L172.82,307.11 L172.82,316.35 M181.43,307.11 L179.99,307.55 L179.04,308.87 L178.56,311.07 L178.56,312.39 L179.04,314.59 L179.99,315.91 L181.43,316.35 L182.38,316.35 L183.82,315.91 L184.77,314.59 L185.25,312.39 L185.25,311.07 L184.77,308.87 L183.82,307.55 L182.38,307.11 L181.43,307.11" stroke="#151515" stroke-width="1.05"/>
<path d="M254.23,308.87 L255.18,308.43 L256.62,307.11 L256.62,316.35 M265.22,307.11 L263.79,307.55 L262.83,308.87 L262.35,311.07 L262.35,312.39 L262.83,314.59 L263.79,315.91 L265.22,316.35 L266.18,316.35 L267.61,315.91 L268.57,314.59 L269.05,312.39 L269.05,311.07 L268.57,308.87 L267.61,307.55 L266.18,307.11 L265.22,307.11 M274.78,307.11 L273.35,307.55 L272.39,308.87 L271.91,311.07 L271.91,312.39 L272.39,314.59 L273.35,315.91 L274.78,316.35 L275.74,316.35 L277.17,315.91 L278.13,314.59 L278.61,312.39 L278.61,311.07 L278.13,308.87 L277.17,307.55 L275.74,307.11 L274.78,307.11" stroke="#151515" stroke-width="1.05"/>
<path d="M338.02,308.87 L338.98,308.43 L340.41,307.11 L340.41,316.35 M349.02,307.11 L347.58,307.55 L346.63,308.87 L346.15,311.07 L346.15,312.39 L346.63,314.59 L347.58,315.91 L349.02,316.35 L349.97,316.35 L351.41,315.91 L352.36,314.59 L352.84,312.39 L352.84,311.07 L352.36,308.87 L351.41,307.55 L349.97,307.11 L349.02,307.11 M358.58,307.11 L357.14,307.55 L356.19,308.87 L355.71,311.07 L355.71,312.39 L356.19,314.59 L357.14,315.91 L358.58,316.35 L359.53,316.35 L360.97,315.91 L361.92,314.59 L362.40,312.39 L362.40,311.07 L361.92,308.87 L360.97,307.55 L359.53,307.11 L358.58,307.11 M368.14,307.11 L366.70,307.55 L365.75,308.87 L365.27,311.07 L365.27,312.39 L365.75,314.59 L366.70,315.91 L368.14,316.35 L369.09,316.35 L370.53,315.91 L371.48,314.59 L371.96,312.39 L371.96,311.07 L371.48,308.87 L370.53,307.55 L369.09,307.11 L368.14,307.11" stroke="#151515" stroke-width="1.05"/>
<path d="M421.82,308.87 L422.77,308.43 L424.21,307.11 L424.21,316.35 M432.81,307.11 L431.38,307.55 L430.42,308.87 L429.94,311.07 L429.94,312.39 L430.42,314.59 L431.38,315.91 L432.81,316.35 L433.77,316.35 L435.20,315.91 L436.16,314.59 L436.64,312.39 L436.64,311.07 L436.16,308.87 L435.20,307.55 L433.77,307.11 L432.81,307.11 M442.37,307.11 L440.94,307.55 L439.98,308.87 L439.50,311.07 L439.50,312.39 L439.98,314.59 L440.94,315.91 L442.37,316.35 L443.33,316.35 L444.76,315.91 L445.72,314.59 L446.20,312.39 L446.20,311.07 L445.72,308.87 L444.76,307.55 L443.33,307.11 L442.37,307.11 M451.93,307.11 L450.50,307.55 L449.54,308.87 L449.06,311.07 L449.06,312.39 L449.54,314.59 L450.50,315.91 L451.93,316.35 L452.89,316.35 L454.32,315.91 L455.28,314.59 L455.76,312.39 L455.76,311.07 L455.28,308.87 L454.32,307.55 L452.89,307.11 L451.93,307.11 M461.49,307.11 L460.06,307.55 L459.10,308.87 L458.62,311.07 L458.62,312.39 L459.10,314.59 L460.06,315.91 L461.49,316.35 L462.45,316.35 L463.88,315.91 L464.84,314.59 L465.32,312.39 L465.32,311.07 L464.84,308.87 L463.88,307.55 L462.45,307.11 L461.49,307.11" stroke="#151515" stroke-width="1.05"/>
<path d="M54.93,287.87 L55.89,287.43 L57.32,286.11 L57.32,295.35 M65.93,286.11 L64.49,286.55 L63.54,287.87 L63.06,290.07 L63.06,291.39 L63.54,293.59 L64.49,294.91 L65.93,295.35 L66.88,295.35 L68.32,294.91 L69.27,293.59 L69.75,291.39 L69.75,290.07 L69.27,287.87 L68.32,286.55 L66.88,286.11 L65.93,286.11" stroke="#151515" stroke-width="1.05"/>
<path d="M72.4,285.75 H76.5" stroke="#151515" stroke-width="1.0"/>
<path d="M82.77,283.71 L82.50,283.20 L81.69,282.94 L81.15,282.94 L80.34,283.20 L79.80,283.97 L79.53,285.24 L79.53,286.51 L79.80,287.54 L80.34,288.05 L81.15,288.30 L81.42,288.30 L82.23,288.05 L82.77,287.54 L83.04,286.77 L83.04,286.51 L82.77,285.75 L82.23,285.24 L81.42,284.99 L81.15,284.99 L80.34,285.24 L79.80,285.75 L79.53,286.51" stroke="#151515" stroke-width="1.0"/>
<path d="M54.93,236.39 L55.89,235.95 L57.32,234.63 L57.32,243.87 M65.93,234.63 L64.49,235.07 L63.54,236.39 L63.06,238.59 L63.06,239.91 L63.54,242.11 L64.49,243.43 L65.93,243.87 L66.88,243.87 L68.32,243.43 L69.27,242.11 L69.75,239.91 L69.75,238.59 L69.27,236.39 L68.32,235.07 L66.88,234.63 L65.93,234.63" stroke="#151515" stroke-width="1.05"/>
<path d="M72.4,234.27 H76.5" stroke="#151515" stroke-width="1.0"/>
<path d="M82.50,231.46 L79.80,231.46 L79.53,233.76 L79.80,233.50 L80.61,233.25 L81.42,233.25 L82.23,233.50 L82.77,234.01 L83.04,234.78 L83.04,235.29 L82.77,236.05 L82.23,236.56 L81.42,236.82 L80.61,236.82 L79.80,236.56 L79.53,236.31 L79.26,235.80" stroke="#151515" stroke-width="1.0"/>
<path d="M54.93,179.50 L55.89,179.06 L57.32,177.74 L57.32,186.98 M65.93,177.74 L64.49,178.18 L63.54,179.50 L63.06,181.70 L63.06,183.02 L63.54,185.22 L64.49,186.54 L65.93,186.98 L66.88,186.98 L68.32,186.54 L69.27,185.22 L69.75,183.02 L69.75,181.70 L69.27,179.50 L68.32,178.18 L66.88,177.74 L65.93,177.74" stroke="#151515" stroke-width="1.05"/>
<path d="M72.4,177.38 H76.5" stroke="#151515" stroke-width="1.0"/>
<path d="M81.96,174.58 L79.26,178.15 L83.31,178.15 M81.96,174.58 L81.96,179.93" stroke="#151515" stroke-width="1.0"/>
<path d="M54.93,122.62 L55.89,122.18 L57.32,120.86 L57.32,130.10 M65.93,120.86 L64.49,121.30 L63.54,122.62 L63.06,124.82 L63.06,126.14 L63.54,128.34 L64.49,129.66 L65.93,130.10 L66.88,130.10 L68.32,129.66 L69.27,128.34 L69.75,126.14 L69.75,124.82 L69.27,122.62 L68.32,121.30 L66.88,120.86 L65.93,120.86" stroke="#151515" stroke-width="1.05"/>
<path d="M72.4,120.50 H76.5" stroke="#151515" stroke-width="1.0"/>
<path d="M79.80,117.69 L82.77,117.69 L81.15,119.73 L81.96,119.73 L82.50,119.99 L82.77,120.24 L83.04,121.01 L83.04,121.52 L82.77,122.28 L82.23,122.79 L81.42,123.05 L80.61,123.05 L79.80,122.79 L79.53,122.54 L79.26,122.03" stroke="#151515" stroke-width="1.0"/>
<path d="M54.93,65.73 L55.89,65.29 L57.32,63.97 L57.32,73.21 M65.93,63.97 L64.49,64.41 L63.54,65.73 L63.06,67.93 L63.06,69.25 L63.54,71.45 L64.49,72.77 L65.93,73.21 L66.88,73.21 L68.32,72.77 L69.27,71.45 L69.75,69.25 L69.75,67.93 L69.27,65.73 L68.32,64.41 L66.88,63.97 L65.93,63.97" stroke="#151515" stroke-width="1.05"/>
<path d="M72.4,63.61 H76.5" stroke="#151515" stroke-width="1.0"/>
<path d="M79.53,62.08 L79.53,61.83 L79.80,61.32 L80.07,61.06 L80.61,60.81 L81.69,60.81 L82.23,61.06 L82.50,61.32 L82.77,61.83 L82.77,62.34 L82.50,62.85 L81.96,63.61 L79.26,66.16 L83.04,66.16" stroke="#151515" stroke-width="1.0"/>
<path d="M260.61,323.34 L260.61,338.12 M261.09,323.34 L261.09,338.12 M260.61,323.34 L263.96,323.34 M260.61,338.12 L263.96,338.12 M266.83,330.73 L272.56,330.73 L272.56,329.85 L272.08,328.97 L271.61,328.53 L270.65,328.09 L269.22,328.09 L268.26,328.53 L267.30,329.41 L266.83,330.73 L266.83,331.61 L267.30,332.93 L268.26,333.81 L269.22,334.25 L270.65,334.25 L271.61,333.81 L272.56,332.93 M274.47,325.01 L278.30,334.25 M282.12,325.01 L278.30,334.25 M286.90,323.34 L286.90,338.12 M287.38,323.34 L287.38,338.12 M284.03,323.34 L287.38,323.34 M284.03,338.12 L287.38,338.12" stroke="#151515" stroke-width="1.05"/>
<path transform="translate(243.0,334.8) scale(1,0.95)" d="M6.2,-7.5 C7.6,-7.2 8.6,-7.8 8.4,-8.8 C8.1,-10 6.8,-10.5 5.2,-10.5 C3.4,-10.5 2.1,-9.6 2.1,-8.3 C2.1,-7 3,-6 4.3,-5.5 C2.3,-5.3 0.8,-4.2 0.8,-2.7 C0.8,-1 2,0 3.6,0 C5.4,0 6.8,-1 7.5,-2.6" stroke="#151515" stroke-width="1.05"/>
<path transform="translate(38.50,177.50) rotate(-90)" d="M3.60,-8.92 L2.88,-8.92 L2.16,-8.50 L1.80,-7.22 L1.80,0.00 M0.72,-5.95 L3.24,-5.95" stroke="#151515" stroke-width="1.05"/>
<path transform="translate(41.00,172.70) rotate(-90)" d="M1.24,-3.36 L0.56,0.00 M3.49,-3.00 L3.38,-3.29 L3.15,-3.36 L2.70,-3.12 L1.80,-2.16 L1.35,-1.92 L1.01,-1.92 M1.12,-1.92 L1.57,-1.68 L1.80,-1.44 L2.25,-0.24 L2.48,0.00 L2.70,0.00 L2.93,-0.24" stroke="#151515" stroke-width="1.0"/>
<path transform="translate(38.55,168.85) rotate(-90)" d="M4.95,-11.66 L4.05,-10.67 L3.15,-9.19 L2.25,-7.21 L1.80,-4.75 L1.80,-2.77 L2.25,-0.31 L3.15,1.67 L4.05,3.15 L4.95,4.14" stroke="#151515" stroke-width="1.05"/>
<path transform="translate(38.55,161.0) rotate(-90) scale(0.914,0.94)" d="M6.2,-7.5 C7.6,-7.2 8.6,-7.8 8.4,-8.8 C8.1,-10 6.8,-10.5 5.2,-10.5 C3.4,-10.5 2.1,-9.6 2.1,-8.3 C2.1,-7 3,-6 4.3,-5.5 C2.3,-5.3 0.8,-4.2 0.8,-2.7 C0.8,-1 2,0 3.6,0 C5.4,0 6.8,-1 7.5,-2.6" stroke="#151515" stroke-width="1.05"/>
<path transform="translate(38.55,152.55) rotate(-90)" d="M1.35,-11.66 L2.25,-10.67 L3.15,-9.19 L4.05,-7.21 L4.50,-4.75 L4.50,-2.77 L4.05,-0.31 L3.15,1.67 L2.25,3.15 L1.35,4.14" stroke="#151515" stroke-width="1.05"/>
<path d="M117.0,207.8 H188.0" stroke="black" stroke-width="1.5" stroke-linecap="butt"/>
<path d="M196.60,201.88 L196.60,210.60 M196.60,201.88 L200.09,210.60 M203.59,201.88 L200.09,210.60 M203.59,201.88 L203.59,210.60 M211.88,204.79 L211.88,210.60 M211.88,206.03 L211.01,205.20 L210.13,204.79 L208.82,204.79 L207.95,205.20 L207.08,206.03 L206.64,207.28 L206.64,208.11 L207.08,209.35 L207.95,210.19 L208.82,210.60 L210.13,210.60 L211.01,210.19 L211.88,209.35 M214.94,204.79 L219.74,210.60 M219.74,204.79 L214.94,210.60 M222.36,204.79 L224.11,210.60 M225.85,204.79 L224.11,210.60 M225.85,204.79 L227.60,210.60 M229.34,204.79 L227.60,210.60 M231.96,207.28 L237.20,207.28 L237.20,206.45 L236.77,205.62 L236.33,205.20 L235.46,204.79 L234.15,204.79 L233.27,205.20 L232.40,206.03 L231.96,207.28 L231.96,208.11 L232.40,209.35 L233.27,210.19 L234.15,210.60 L235.46,210.60 L236.33,210.19 L237.20,209.35 M240.26,201.88 L240.26,210.60 M243.75,201.88 L243.75,210.60" stroke="#000" stroke-width="1.5"/>
<path d="M117.0,221.6 H188.0" stroke="#7b1b73" stroke-width="1.5" stroke-linecap="butt" stroke-dasharray="11.2 4.9"/>
<path d="M197.35,219.43 L196.12,225.10 M201.45,220.04 L201.25,219.55 L200.84,219.43 L200.02,219.83 L198.38,221.45 L197.56,221.86 L196.94,221.86 M197.15,221.86 L197.97,222.26 L198.38,222.67 L199.20,224.69 L199.61,225.10 L200.02,225.10 L200.43,224.69" stroke="#7b1b73" stroke-width="1.4"/>
<path d="M211.55,220.24 L218.75,220.24 M211.55,222.67 L218.75,222.67" stroke="#7b1b73" stroke-width="1.4"/>
<path d="M229.48,218.14 L229.48,217.70 L229.91,216.83 L230.35,216.40 L231.23,215.97 L232.97,215.97 L233.85,216.40 L234.28,216.83 L234.72,217.70 L234.72,218.57 L234.28,219.44 L233.41,220.75 L229.04,225.10 L235.16,225.10 M243.03,215.97 L238.66,215.97 L238.22,219.88 L238.66,219.44 L239.97,219.01 L241.28,219.01 L242.59,219.44 L243.46,220.31 L243.90,221.62 L243.90,222.49 L243.46,223.79 L242.59,224.66 L241.28,225.10 L239.97,225.10 L238.66,224.66 L238.22,224.23 L237.78,223.36" stroke="#7b1b73" stroke-width="1.4"/>
<path d="M117.0,235.7 H188.0" stroke="#2277c2" stroke-width="1.5" stroke-linecap="butt" stroke-dasharray="8.4 2.5 1.3 2.7 1.3 2.7 1.3 2.6"/>
<path d="M197.35,233.53 L196.12,239.20 M201.45,234.14 L201.25,233.65 L200.84,233.53 L200.02,233.94 L198.38,235.55 L197.56,235.96 L196.94,235.96 M197.15,235.96 L197.97,236.36 L198.38,236.77 L199.20,238.79 L199.61,239.20 L200.02,239.20 L200.43,238.79" stroke="#2277c2" stroke-width="1.4"/>
<path d="M211.55,234.34 L218.75,234.34 M211.55,236.77 L218.75,236.77" stroke="#2277c2" stroke-width="1.4"/>
<path d="M230.35,231.80 L231.23,231.37 L232.54,230.06 L232.54,239.20 M240.40,230.06 L239.09,230.50 L238.22,231.80 L237.78,233.98 L237.78,235.28 L238.22,237.46 L239.09,238.76 L240.40,239.20 L241.28,239.20 L242.59,238.76 L243.46,237.46 L243.90,235.28 L243.90,233.98 L243.46,231.80 L242.59,230.50 L241.28,230.06 L240.40,230.06" stroke="#2277c2" stroke-width="1.4"/>
<path d="M117.0,249.7 H188.0" stroke="#1fa56f" stroke-width="1.5" stroke-linecap="butt" stroke-dasharray="1.3 2.45"/>
<path d="M197.35,247.53 L196.12,253.20 M201.45,248.14 L201.25,247.65 L200.84,247.53 L200.02,247.94 L198.38,249.55 L197.56,249.96 L196.94,249.96 M197.15,249.96 L197.97,250.36 L198.38,250.77 L199.20,252.79 L199.61,253.20 L200.02,253.20 L200.43,252.79" stroke="#1fa56f" stroke-width="1.4"/>
<path d="M211.55,248.34 L218.75,248.34 M211.55,250.77 L218.75,250.77" stroke="#1fa56f" stroke-width="1.4"/>
<path d="M234.28,244.06 L229.91,244.06 L229.48,247.98 L229.91,247.54 L231.23,247.11 L232.54,247.11 L233.85,247.54 L234.72,248.41 L235.16,249.72 L235.16,250.59 L234.72,251.89 L233.85,252.76 L232.54,253.20 L231.23,253.20 L229.91,252.76 L229.48,252.33 L229.04,251.46" stroke="#1fa56f" stroke-width="1.4"/>
<path d="M117.0,263.9 H188.0" stroke="#f9a61f" stroke-width="1.5" stroke-linecap="butt" stroke-dasharray="5.65 5.11"/>
<path d="M197.35,261.73 L196.12,267.40 M201.45,262.34 L201.25,261.85 L200.84,261.73 L200.02,262.13 L198.38,263.75 L197.56,264.16 L196.94,264.16 M197.15,264.16 L197.97,264.56 L198.38,264.97 L199.20,267.00 L199.61,267.40 L200.02,267.40 L200.43,267.00" stroke="#f9a61f" stroke-width="1.4"/>
<path d="M211.55,262.54 L218.75,262.54 M211.55,264.97 L218.75,264.97" stroke="#f9a61f" stroke-width="1.4"/>
<path d="M229.91,258.26 L234.72,258.26 L232.10,261.75 L233.41,261.75 L234.28,262.18 L234.72,262.61 L235.16,263.92 L235.16,264.79 L234.72,266.09 L233.85,266.96 L232.54,267.40 L231.23,267.40 L229.91,266.96 L229.48,266.53 L229.04,265.66" stroke="#f9a61f" stroke-width="1.4"/>
<path d="M117.0,277.9 H188.0" stroke="#e8212d" stroke-width="1.5" stroke-linecap="butt" stroke-dasharray="5.65 2.4 1.3 2.7"/>
<path d="M197.35,275.73 L196.12,281.40 M201.45,276.34 L201.25,275.85 L200.84,275.73 L200.02,276.13 L198.38,277.75 L197.56,278.16 L196.94,278.16 M197.15,278.16 L197.97,278.56 L198.38,278.97 L199.20,281.00 L199.61,281.40 L200.02,281.40 L200.43,281.00" stroke="#e8212d" stroke-width="1.4"/>
<path d="M211.55,276.54 L218.75,276.54 M211.55,278.97 L218.75,278.97" stroke="#e8212d" stroke-width="1.4"/>
<path d="M229.48,274.44 L229.48,274.00 L229.91,273.13 L230.35,272.70 L231.23,272.26 L232.97,272.26 L233.85,272.70 L234.28,273.13 L234.72,274.00 L234.72,274.88 L234.28,275.75 L233.41,277.05 L229.04,281.40 L235.16,281.40" stroke="#e8212d" stroke-width="1.4"/>
</g>
</svg></body></html>
